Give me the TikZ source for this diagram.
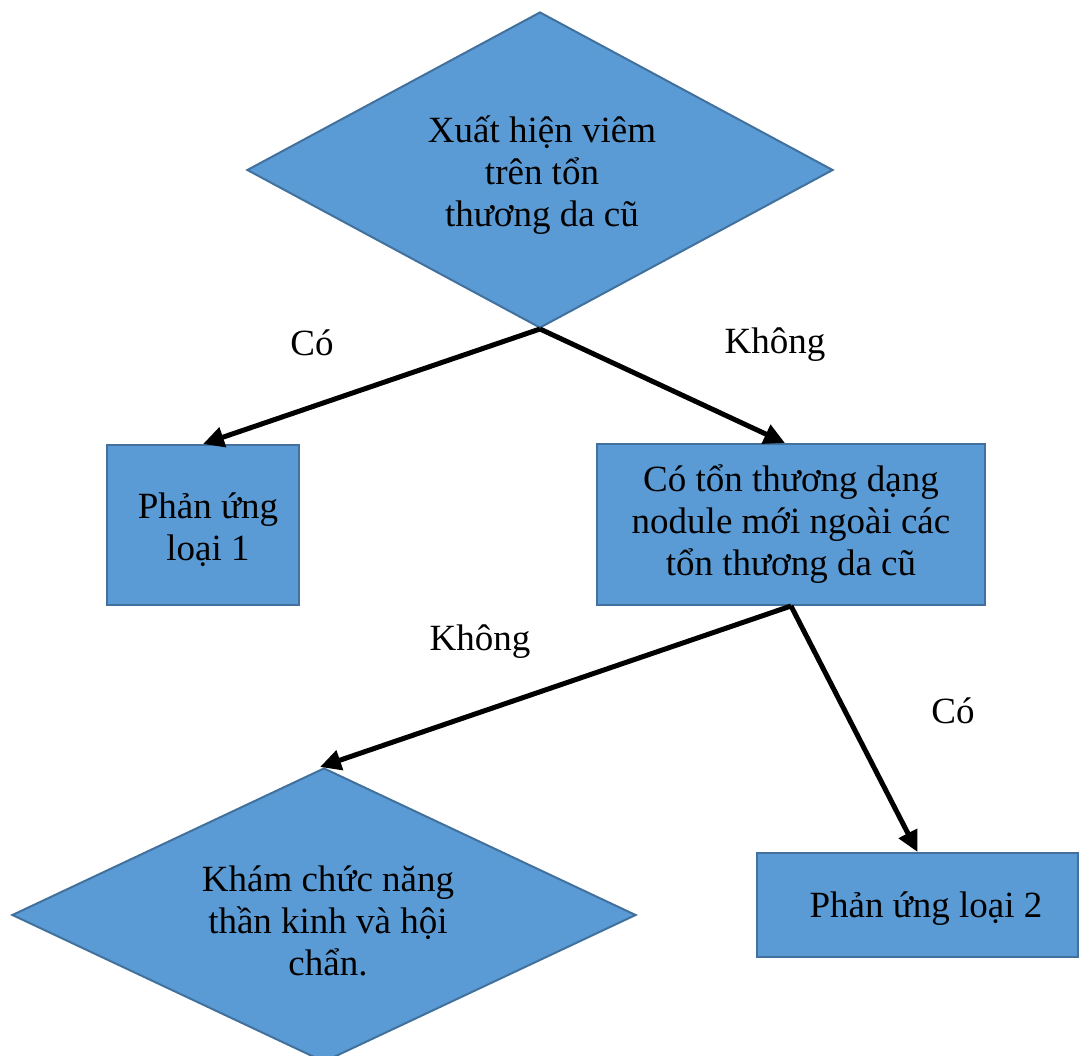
\documentclass[tikz,border=0pt]{standalone}
\usepackage{fontspec}
\setmainfont{Liberation Serif}
\usetikzlibrary{shapes.geometric,arrows.meta}
\definecolor{fillblue}{HTML}{5B9BD5}
\definecolor{edgeblue}{HTML}{41719C}
\begin{document}
\begin{tikzpicture}[x=1pt,y=-1pt,
  every node/.style={font=\fontsize{37}{42}\selectfont, align=center},
  dia/.style={diamond, draw=edgeblue, fill=fillblue, line width=2pt, inner sep=0pt, aspect=1.8},
  rbox/.style={rectangle, draw=edgeblue, fill=fillblue, line width=2pt, inner sep=0pt},
  conn/.style={line width=5pt, -{Triangle[length=21pt,width=20pt]}},
  lbl/.style={inner sep=0pt}
]
\useasboundingbox (0,0) rectangle (1080,1056);
\clip (0,0) rectangle (1080,1056);
\node[dia, minimum width=586pt, minimum height=316pt] (d1) at (540,170) {};
\node at (542,175) {Xuất hiện viêm\\trên tổn\\thương da cũ};
\node[rbox, minimum width=192pt, minimum height=160pt] (b1) at (203,525) {};
\node at (208,530) {Phản ứng\\loại 1};
\node[rbox, minimum width=388pt, minimum height=161pt] (b2) at (791,524.5) {};
\node at (791,524) {Có tổn thương dạng\\nodule mới ngoài các\\tổn thương da cũ};
\node[dia, minimum width=624pt, minimum height=294pt] (d2) at (324,915) {};
\node at (328,921) {Khám chức năng\\thần kinh và hội\\chẩn.};
\node[rbox, minimum width=321pt, minimum height=104pt] (b3) at (917.5,905) {};
\node at (926,909) {Phản ứng loại 2};
\draw[conn] (d1.south) -- (b1.north);
\draw[conn] (d1.south) -- ([xshift=-6pt]b2.north);
\draw[conn] (b2.south) -- ([xshift=-4pt]d2.north);
\draw[conn] (b2.south) -- (b3.north);
\node[lbl] (l1) at (312,343) {Có};
\node[lbl] (l2) at (775,345) {Không};
\node[lbl] (l3) at (480,642) {Không};
\node[lbl] (l4) at (953,711) {Có};
\end{tikzpicture}
\end{document}
